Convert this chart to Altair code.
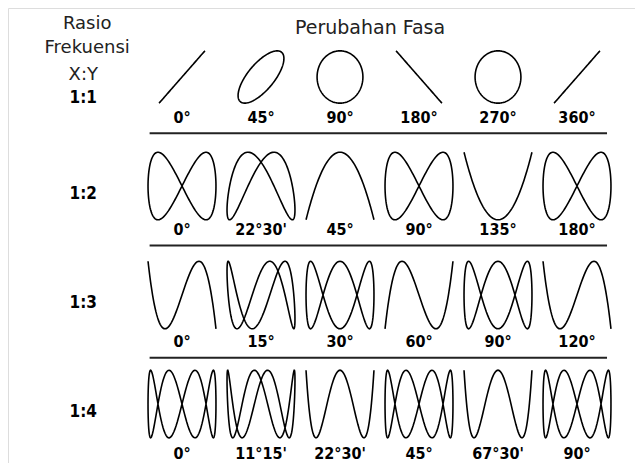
import altair as alt
import pandas as pd

# ---- data ----
ratios = [1, 2, 3, 4]
ratio_labels = ["1:1", "1:2", "1:3", "1:4"]
phases = [
    [0, 45, 90, 180, 270, 360],
    [0, 22.5, 45, 90, 135, 180],
    [0, 15, 30, 60, 90, 120],
    [0, 11.25, 22.5, 45, 67.5, 90],
]
phase_labels = [
    ["0°", "45°", "90°", "180°", "270°", "360°"],
    ["0°", "22°30'", "45°", "90°", "135°", "180°"],
    ["0°", "15°", "30°", "60°", "90°", "120°"],
    ["0°", "11°15'", "22°30'", "45°", "67°30'", "90°"],
]
# vertical orientation of each figure as it is drawn in the picture
orientation = [
    [1, 1, 1, 1, 1, 1],
    [1, 1, 1, 1, 1, 1],
    [1, 1, 1, 1, 1, 1],
    [1, 1, 1, 1, -1, 1],
]
header_left = ["Rasio", "Frekuensi", "X:Y"]
header_top = "Perubahan Fasa"

# ---- tables built from the arrays ----
fig_rows = []
for r, (n, ph_row, lab_row, or_row) in enumerate(zip(ratios, phases, phase_labels, orientation)):
    for c, (ph, lab, o) in enumerate(zip(ph_row, lab_row, or_row)):
        fig_rows.append({"row": r, "col": c, "n": n, "phase": ph, "label": lab,
                         "flip": o, "fig": f"{r}-{c}"})
figs = pd.DataFrame(fig_rows)
ratio_df = pd.DataFrame({"row": list(range(len(ratios))), "label": ratio_labels})
sep_df = pd.DataFrame({"row": list(range(len(ratios) - 1))})

X_DOM = [-2.2025, 5.7342]
Y_DOM = [-0.633, 3.541]
xs = alt.Scale(domain=X_DOM, nice=False, zero=False)
ys = alt.Scale(domain=Y_DOM, nice=False, zero=False, reverse=True)
noax = None

base = alt.Chart(figs)

curves = base.transform_calculate(
    ts="sequence(0, 362, 2)"
).transform_flatten(["ts"]).transform_calculate(
    rad="datum.ts * PI / 180",
    hw="datum.row == 0 ? 0.29 : 0.43",
    hh="datum.row == 0 ? 0.24 : 0.31",
).transform_calculate(
    px="datum.col + datum.hw * sin(datum.rad)",
    py="datum.row - datum.flip * datum.hh * sin(datum.n * (datum.rad + datum.phase * PI / 180))",
).mark_line(color="black", strokeWidth=1.6).encode(
    x=alt.X("px:Q", scale=xs, axis=noax),
    y=alt.Y("py:Q", scale=ys, axis=noax),
    detail="fig:N",
    order="ts:Q",
)

plabels = base.transform_calculate(
    ly="datum.row + 0.38 + 0.025 * datum.row"
).mark_text(font="DejaVu Sans Condensed", fontWeight="bold", fontSize=16,
            color="black", baseline="middle").encode(
    x=alt.X("col:Q", scale=xs, axis=noax),
    y=alt.Y("ly:Q", scale=ys, axis=noax),
    text="label:N",
)

seps = alt.Chart(sep_df).transform_calculate(
    sy="datum.row + 0.515 + 0.03 * datum.row", x1="-0.41", x2="5.38"
).mark_rule(color="#222", strokeWidth=2).encode(
    x=alt.X("x1:Q", scale=xs, axis=noax),
    x2="x2:Q",
    y=alt.Y("sy:Q", scale=ys, axis=noax),
)

rlabels = alt.Chart(ratio_df).transform_calculate(
    lx="-1.25", ly="datum.row == 0 ? 0.19 : datum.row + 0.07"
).mark_text(font="DejaVu Sans Condensed", fontWeight="bold", fontSize=17,
            color="black", baseline="middle").encode(
    x=alt.X("lx:Q", scale=xs, axis=noax),
    y=alt.Y("ly:Q", scale=ys, axis=noax),
    text="label:N",
)

hl_y = [-0.486, -0.266, -0.018]
hl_x = [-1.2, -1.2, -1.25]
left_layers = [
    alt.Chart().mark_text(font="DejaVu Sans", fontSize=18, color="#222",
                          baseline="middle", text=t).encode(
        x=alt.datum(xx, scale=xs, axis=noax),
        y=alt.datum(yy, scale=ys, axis=noax),
    )
    for t, xx, yy in zip(header_left, hl_x, hl_y)
]

top_title = alt.Chart().mark_text(font="DejaVu Sans", fontSize=19, color="#222",
                                  baseline="middle", text=header_top).encode(
    x=alt.datum(2.38, scale=xs, axis=noax),
    y=alt.datum(-0.45, scale=ys, axis=noax),
)

chart = alt.layer(curves, plabels, seps, rlabels, top_title, *left_layers).properties(
    width=627, height=455,
    autosize=alt.AutoSizeParams(type="fit", contains="padding"),
    padding=0,
).configure_view(stroke=None).configure(background="white")

chart.save("out.html", embed_options={"renderer": "svg", "actions": False})
